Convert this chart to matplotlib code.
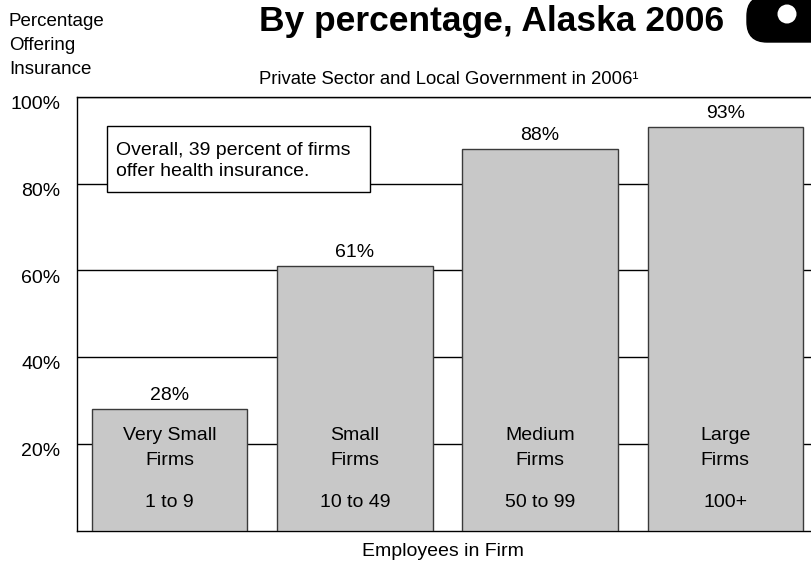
import matplotlib
matplotlib.use("Agg")
import matplotlib.pyplot as plt
from matplotlib.patches import FancyBboxPatch, Circle
from matplotlib.transforms import ScaledTranslation

plt.rcParams['font.family'] = ['Liberation Sans', 'DejaVu Sans']

# ---- data ----
categories = ["Very Small\nFirms", "Small\nFirms", "Medium\nFirms", "Large\nFirms"]
ranges = ["1 to 9", "10 to 49", "50 to 99", "100+"]
values = [28, 61, 88, 93]
yticks = [20, 40, 60, 80, 100]
ytick_labels = ["20%", "40%", "60%", "80%", "100%"]

W, H = 812, 564
fig = plt.figure(figsize=(W / 100, H / 100), dpi=100)
FS = 14

# main axes (pixel geometry from reference)
left, right, top, bottom = 77, 818, 97, 530.7
ax = fig.add_axes([left / W, (H - bottom) / H, (right - left) / W, (bottom - top) / H])
x = list(range(len(values)))
ax.bar(x, values, width=0.84, color="#c8c8c8", edgecolor="#3a3a3a", linewidth=1.0, zorder=3)
ax.set_xlim(-0.5, 3.5)
ax.set_ylim(0, 100)
ax.set_yticks(yticks)
ax.set_yticklabels(ytick_labels, fontsize=14)
ax.set_xticks([])
ax.tick_params(axis='y', length=0, pad=12)
for lab in ax.get_yticklabels():
    lab.set_transform(lab.get_transform() + ScaledTranslation(0, -4 / 72, fig.dpi_scale_trans))
ax.yaxis.grid(True, color="black", linewidth=1.0, zorder=0)
ax.set_axisbelow(True)
for s in ax.spines.values():
    s.set_color("black")
    s.set_linewidth(1.0)
ax.spines['right'].set_visible(False)

for xi, v, c, r in zip(x, values, categories, ranges):
    ax.annotate(f"{v}%", (xi, v), xytext=(0, 3.5), textcoords="offset points",
                ha="center", va="bottom", fontsize=FS, zorder=5)
    ax.text(xi, 23.8, c, ha="center", va="top", fontsize=FS, linespacing=1.55, zorder=5)
    ax.text(xi, 6.6, r, ha="center", va="center", fontsize=FS, zorder=5)

# overlay axes in pixel coords for decorations
ov = fig.add_axes([0, 0, 1, 1], facecolor="none")
ov.set_xlim(0, W)
ov.set_ylim(H, 0)
ov.axis("off")

ov.text(9, 13, "Percentage\nOffering\nInsurance", ha="left", va="top", fontsize=13.5,
        linespacing=1.52)
ov.text(492, 22, "By percentage, Alaska 2006", ha="center", va="center",
        fontsize=25.5, fontweight="bold")
ov.text(449, 80, "Private Sector and Local Government in 2006\u00b9",
        ha="center", va="center", fontsize=13.3)
ov.text(443, 551, "Employees in Firm", ha="center", va="center", fontsize=FS)

# annotation box
ov.add_patch(plt.Rectangle((107, 126), 263, 66, facecolor="white", edgecolor="black",
                           linewidth=1.0, zorder=6))
ov.text(116, 161, "Overall, 39 percent of firms\noffer health insurance.", ha="left",
        va="center", fontsize=FS, linespacing=1.35, zorder=7)

# logo fragment top-right
ov.add_patch(FancyBboxPatch((747, -4), 100, 46, boxstyle="round,pad=0,rounding_size=20",
                            facecolor="black", edgecolor="black", zorder=6))
ov.add_patch(Circle((787, 14), 9.5, facecolor="white", edgecolor="none", zorder=7))

fig.savefig("out.png", dpi=100)
